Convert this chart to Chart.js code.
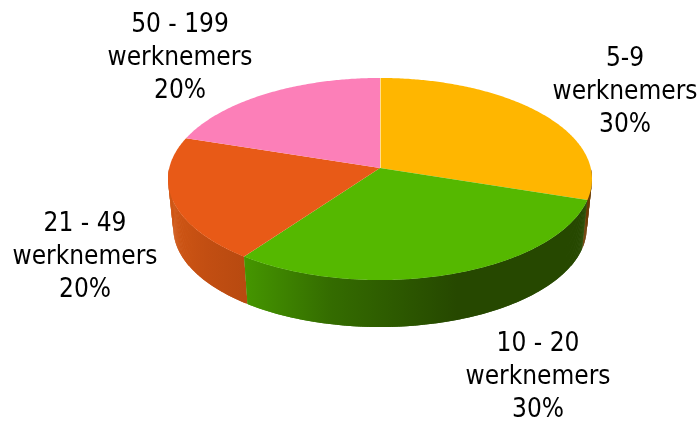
<!DOCTYPE html>
<html>
<head>
<meta charset="utf-8">
<style>
html, body { margin: 0; padding: 0; background: #fff; }
</style>
<script src="https://cdn.jsdelivr.net/npm/chart.js@4"></script>
</head>
<body>
<canvas id="myChart" width="700" height="421"></canvas>
<script>
let categories = ['5-9', '10 - 20', '21 - 49', '50 - 199'];
let values = [30, 30, 20, 20];
let unit = 'werknemers';
let topColors = ['#FFB600', '#55B800', '#E85A17', '#FC7FB8'];
let wallStops = [
    [[0, '#6b3a00'], [1, '#6b3a00']],
    [[0, '#264800'], [0.38, '#264800'], [0.75, '#346c00'], [1, '#459600']],
    [[0, '#b84a10'], [0.5, '#c24e12'], [1, '#d05614']],
    [[0, '#d05614'], [1, '#d05614']]
];
let labelX = [625, 538, 85, 180];
let labelY = [59, 344, 224, 25];

// perspective of the disc: the near side looks bigger than the far side
const lean = -0.109;
const tilt = 0.471;
const widen = 0.994;

function rimPoint(arc, angle) {
    let u = Math.cos(angle);
    let v = Math.sin(angle);
    let w = 1 + lean * v;
    return {
        x: arc.x + arc.outerRadius * widen * u / w,
        y: arc.y + arc.outerRadius * tilt * v / w
    };
}

// bottom edge of the wall is a bit narrower than the top edge
function lowPoint(arc, angle) {
    let p = rimPoint(arc, angle);
    return { x: arc.x + (p.x - arc.x) * 0.975, y: arc.y + 60 + (p.y - arc.y - 11) * 0.98 };
}

function rimAngles(arc) {
    let list = [];
    let steps = Math.ceil((arc.endAngle - arc.startAngle) / 0.01);
    for (let s = 0; s <= steps; s++) {
        list.push(arc.startAngle + (arc.endAngle - arc.startAngle) * s / steps);
    }
    return list;
}

function drawWall(ctx, arc, stops) {
    // only the rim that faces the viewer
    let angles = rimAngles(arc).filter(function(a) {
        let t = a < -Math.PI / 2 ? a + Math.PI * 2 : a;
        return t >= 0 && t <= Math.PI;
    });
    if (angles.length < 2) return;
    let x0 = rimPoint(arc, Math.max(arc.startAngle, 0.1)).x;
    let x1 = rimPoint(arc, Math.min(arc.endAngle, Math.PI)).x;
    let grad = ctx.createLinearGradient(x0, 0, x1, 0);
    stops.forEach(function(s) { grad.addColorStop(s[0], s[1]); });
    ctx.fillStyle = grad;
    // small overlapping quads, so the outline follows the extruded silhouette
    for (let s = 0; s < angles.length - 1; s++) {
        let next = angles[Math.min(s + 2, angles.length - 1)];
        let a = rimPoint(arc, angles[s]);
        let b = rimPoint(arc, next);
        let c = lowPoint(arc, next);
        let d = lowPoint(arc, angles[s]);
        ctx.beginPath();
        ctx.moveTo(a.x, a.y);
        ctx.lineTo(b.x, b.y);
        ctx.lineTo(c.x, c.y);
        ctx.lineTo(d.x, d.y);
        ctx.closePath();
        ctx.fill();
    }
}

function drawTop(ctx, arc, color) {
    ctx.fillStyle = color;
    ctx.beginPath();
    ctx.moveTo(arc.x, arc.y);
    rimAngles(arc).forEach(function(a) {
        let p = rimPoint(arc, a);
        ctx.lineTo(p.x, p.y);
    });
    ctx.closePath();
    ctx.fill();
}

let pie3d = {
    id: 'pie3d',
    // the slices come from the library, only their outline gets the perspective
    beforeDatasetDraw: function(chart) {
        let ctx = chart.ctx;
        let arcs = chart.getDatasetMeta(0).data.map(function(el) {
            return el.getProps(['x', 'y', 'startAngle', 'endAngle', 'outerRadius'], true);
        });
        [0, 3, 2, 1].forEach(function(i) { drawWall(ctx, arcs[i], wallStops[i]); });
        arcs.forEach(function(arc, i) { drawTop(ctx, arc, topColors[i]); });

        // pale seam between pink and yellow
        let top = rimPoint(arcs[0], arcs[0].startAngle);
        ctx.strokeStyle = 'rgba(255,235,190,0.75)';
        ctx.lineWidth = 1;
        ctx.beginPath();
        ctx.moveTo(arcs[0].x + 0.5, arcs[0].y);
        ctx.lineTo(top.x + 0.5, top.y);
        ctx.stroke();
        return false;
    },
    afterDraw: function(chart) {
        let ctx = chart.ctx;
        ctx.save();
        ctx.fillStyle = '#000';
        ctx.textAlign = 'center';
        ctx.textBaseline = 'middle';
        ctx.font = '26px "DejaVu Sans Condensed", "DejaVu Sans"';
        categories.forEach(function(cat, i) {
            ctx.fillText(cat, labelX[i], labelY[i]);
            ctx.fillText(unit, labelX[i], labelY[i] + 33);
            ctx.fillText(values[i] + '%', labelX[i], labelY[i] + 66);
        });
        ctx.restore();
    }
};

let chart = new Chart(document.getElementById('myChart').getContext('2d'), {
    type: 'pie',
    data: {
        labels: categories,
        datasets: [{
            data: values,
            backgroundColor: topColors,
            borderWidth: 0
        }]
    },
    options: {
        responsive: false,
        animation: false,
        radius: 212,
        layout: { padding: { left: 60, top: 0, right: 0, bottom: 85 } },
        plugins: { legend: { display: false }, tooltip: { enabled: false } }
    },
    plugins: [pie3d]
});
</script>
</body>
</html>
